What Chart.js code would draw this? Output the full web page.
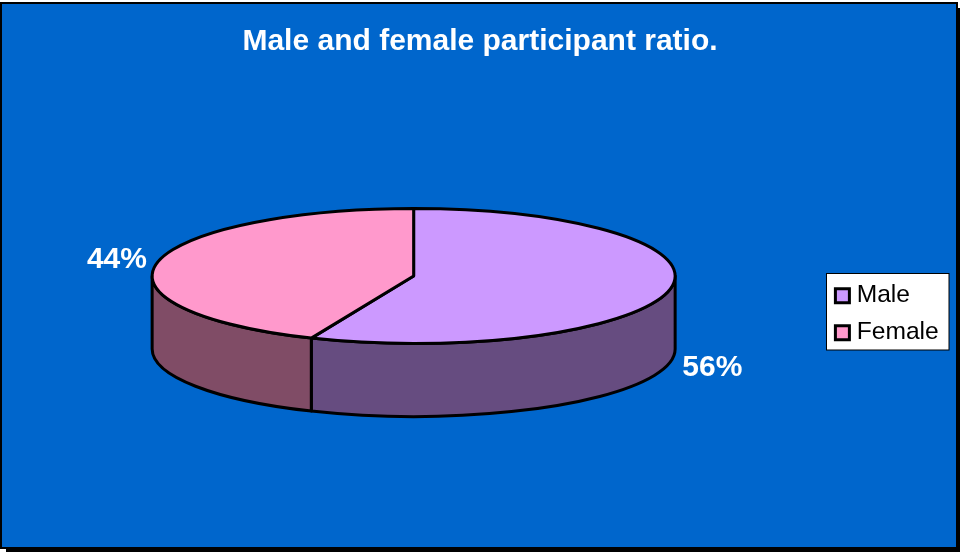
<!DOCTYPE html>
<html>
<head>
<meta charset="utf-8">
<title>Male and female participant ratio.</title>
<script src="https://cdn.jsdelivr.net/npm/chart.js@4/dist/chart.umd.js"></script>
<style>
  html, body { margin: 0; padding: 0; background: #fff; }
  canvas { display: block; }
</style>
</head>
<body>
<canvas id="myChart" width="960" height="552"></canvas>
<script>
/* global Chart */

const categories = ['Male', 'Female'];
const shares = [56.4, 43.6];
const topColors = ['#CC99FF', '#FF99CC'];
const sideColors = ['#664C80', '#804C66'];
const chartTitle = 'Male and female participant ratio.';

const font = '"Liberation Sans", Arial, sans-serif';
const tilt = 67.5 / 261.5;
const depth = 73;

// frame, drop shadow and legend panel
const backdrop = {
  id: 'backdrop',
  afterLayout(chart) {
    chart.titleBlock.left = 0;
    chart.titleBlock.right = 960;
    chart.legend.left = 828;
    chart.legend.right = 950;
    chart.legend.top = 271;
  },
  beforeDraw(chart) {
    const ctx = chart.ctx;
    ctx.save();
    ctx.fillStyle = '#000';
    ctx.fillRect(6, 8, 954, 544);
    ctx.fillStyle = '#0066CC';
    ctx.fillRect(1, 3, 956, 545);
    ctx.strokeStyle = '#000';
    ctx.lineWidth = 2;
    ctx.strokeRect(1, 3, 956, 545);
    ctx.fillStyle = '#fff';
    ctx.fillRect(827, 274, 122, 76);
    ctx.lineWidth = 1;
    ctx.strokeRect(826.5, 273.5, 122.5, 76.5);
    ctx.restore();
  }
};

// the slices come from the pie controller, only the painting is flattened
const pie3d = {
  id: 'pie3d',
  beforeDatasetDraw() {
    return false;
  },
  afterDatasetsDraw(chart) {
    const ctx = chart.ctx;
    const arcs = chart.getDatasetMeta(0).data;
    const total = shares.reduce(function (a, b) { return a + b; }, 0);

    ctx.save();
    ctx.lineWidth = 3;
    ctx.lineJoin = 'round';
    ctx.strokeStyle = '#000';

    arcs.forEach(function (arc, i) {
      const rx = arc.outerRadius;
      const ry = rx * tilt;
      // wall only shows on the front half of the ellipse
      const from = Math.max(arc.startAngle, 0);
      const to = Math.min(arc.endAngle, Math.PI);
      if (to <= from) {
        return;
      }
      ctx.beginPath();
      ctx.ellipse(arc.x, arc.y, rx, ry, 0, from, to);
      ctx.ellipse(arc.x, arc.y + depth, rx, ry, 0, to, from, true);
      ctx.closePath();
      ctx.fillStyle = sideColors[i];
      ctx.fill();
      ctx.stroke();
    });

    arcs.forEach(function (arc, i) {
      const rx = arc.outerRadius;
      ctx.beginPath();
      ctx.moveTo(arc.x, arc.y);
      ctx.ellipse(arc.x, arc.y, rx, rx * tilt, 0, arc.startAngle, arc.endAngle);
      ctx.closePath();
      ctx.fillStyle = topColors[i];
      ctx.fill();
      ctx.stroke();
    });

    ctx.fillStyle = '#fff';
    ctx.font = 'bold 30px ' + font;
    ctx.textAlign = 'center';
    ctx.textBaseline = 'middle';
    arcs.forEach(function (arc, i) {
      const mid = (arc.startAngle + arc.endAngle) / 2;
      const rx = arc.outerRadius;
      const front = Math.sin(mid) > 0;
      const x = arc.x + rx * Math.cos(mid) + (Math.cos(mid) > 0 ? 42.5 : -40.5);
      const y = arc.y + rx * tilt * Math.sin(mid) + (front ? depth + 5 : -3);
      ctx.fillText(Math.round(shares[i] / total * 100) + '%', x, y);
    });
    ctx.restore();
  }
};

new Chart(document.getElementById('myChart'), {
  type: 'pie',
  data: {
    labels: categories,
    datasets: [{
      data: shares,
      backgroundColor: topColors,
      borderColor: '#000',
      borderWidth: 3,
      radius: 261.5
    }]
  },
  options: {
    responsive: false,
    animation: false,
    devicePixelRatio: 1,
    layout: { padding: { right: 12, bottom: 60 } },
    plugins: {
      tooltip: { enabled: false },
      title: {
        display: true,
        text: chartTitle,
        color: '#fff',
        font: { family: font, size: 30, weight: 'bold' },
        padding: { top: 24, bottom: 0 }
      },
      legend: {
        position: 'right',
        align: 'start',
        labels: {
          color: '#000',
          font: { family: font, size: 24.6 },
          usePointStyle: true,
          pointStyle: 'rect',
          boxWidth: 4,
          boxHeight: 14,
          padding: 12.4
        }
      }
    }
  },
  plugins: [backdrop, pie3d]
});
</script>
</body>
</html>
